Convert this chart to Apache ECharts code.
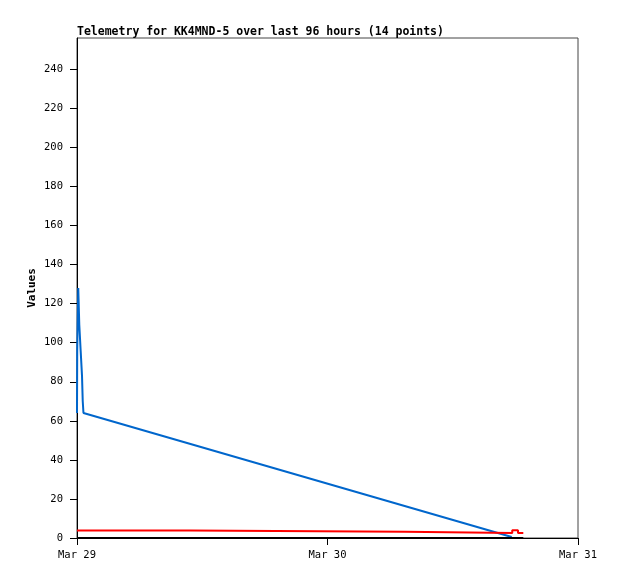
<!DOCTYPE html>
<html>
<head>
<meta charset="utf-8">
<script src="https://cdn.jsdelivr.net/npm/echarts@6/dist/echarts.min.js"></script>
<style>
    html, body { margin: 0; padding: 0; background: #fff; }
    #chart { width: 618px; height: 579px; }
</style>
</head>
<body>
<div id="chart"></div>
<script>
// hours after Mar 29 00:00
var blueHours = [0, 0.02, 0.12, 0.22, 0.35, 0.48, 0.55, 0.62, 41.65];
var blueValues = [64, 96, 128, 109, 96, 83, 70, 64, 0.5];
var redHours = [0, 10.83, 31.4, 41.7, 42.25, 42.76];
var redValues = [3.9, 3.2, 2.6, 4.0, 2.6, 2.6];
var blackHours = [0, 42.76];
var blackValues = [0, 0];
var yTicks = [0, 20, 40, 60, 80, 100, 120, 140, 160, 180, 200, 220, 240];
var dayLabels = ['Mar 29', 'Mar 30', 'Mar 31'];

var start = Date.UTC(2024, 2, 29);   // midnight, so a multiple of one day
var hour = 3600 * 1000;
var day = 24 * hour;

function pairs(hours, values) {
    var arr = [];
    for (var i = 0; i < hours.length; i++) {
        arr.push([start + hours[i] * hour, values[i]]);
    }
    return arr;
}

var mono = 'DejaVu Sans Mono';
var chart = echarts.init(document.getElementById('chart'));
var option = {
    animation: false,
    title: {
        text: 'Telemetry for KK4MND-5 over last 96 hours (14 points)',
        left: 72,
        top: 21,
        textStyle: { fontFamily: mono, fontSize: 11.5, fontWeight: 'bold', color: '#000' }
    },
    grid: {
        left: 77, top: 38, right: 40, bottom: 41,
        show: true, borderColor: '#444', borderWidth: 1
    },
    xAxis: {
        type: 'value',
        min: start,
        max: start + 2 * day,
        interval: day,
        axisLine: { onZero: false, lineStyle: { color: '#000', width: 1 } },
        axisTick: { length: 7, lineStyle: { color: '#000' } },
        axisLabel: {
            margin: 12,
            fontFamily: mono, fontSize: 10.5, color: '#000',
            showMinLabel: true, showMaxLabel: true,
            formatter: function (v) {
                return dayLabels[Math.round((v - start) / day)];
            }
        },
        splitLine: { show: false }
    },
    yAxis: {
        type: 'value',
        min: 0,
        max: 256,
        name: 'Values',
        nameLocation: 'middle',
        nameGap: 39,
        nameMoveOverlap: false,
        nameTextStyle: { fontFamily: mono, fontSize: 11, fontWeight: 'bold', color: '#000' },
        axisLine: { show: true, lineStyle: { color: '#000', width: 1 } },
        axisTick: { show: true, length: 7, lineStyle: { color: '#000' }, customValues: yTicks },
        axisLabel: { customValues: yTicks, margin: 14, fontFamily: mono, fontSize: 10.5, color: '#000' },
        splitLine: { show: false }
    },
    series: [
        {
            type: 'line', symbol: 'none', clip: true,
            lineStyle: { color: '#0066cc', width: 2 },
            data: pairs(blueHours, blueValues)
        },
        {
            type: 'line', symbol: 'none', step: 'end', clip: true,
            lineStyle: { color: '#ff0000', width: 2 },
            data: pairs(redHours, redValues)
        },
        {
            type: 'line', symbol: 'none', clip: true,
            lineStyle: { color: '#000000', width: 2 },
            data: pairs(blackHours, blackValues)
        }
    ]
};
chart.setOption(option);
</script>
</body>
</html>
